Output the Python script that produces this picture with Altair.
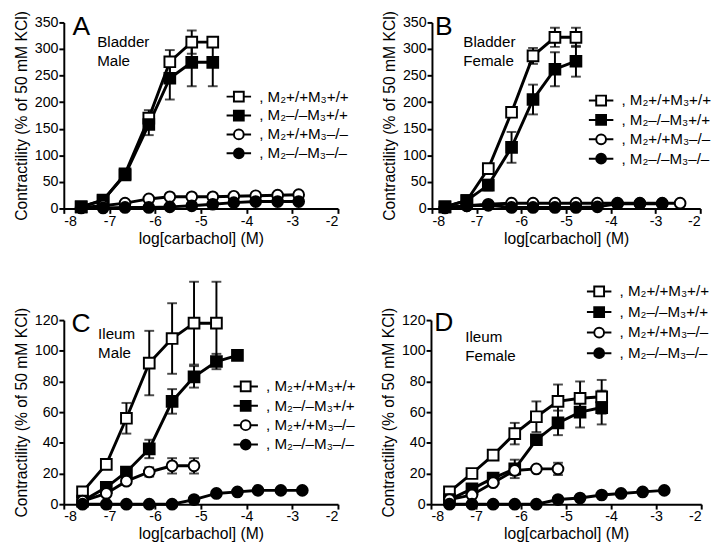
import altair as alt
import pandas as pd

SERIES = [", M₂+/+M₃+/+", ", M₂–/–M₃+/+", ", M₂+/+M₃–/–", ", M₂–/–M₃–/–"]
SHAPES = ["square", "square", "circle", "circle"]
FILLS = ["white", "black", "white", "black"]
STROKES = ["black", "black", "black", "black"]
LEGEND_PATHS = [
    "M-2.5,0H-1M1,0H2.5M-1,-1H1V1H-1Z",
    "M-2.5,0H-1M1,0H2.5M-1,-1H1V1H-1Z",
    "M-2.5,0H-1M1,0H2.5M-1,0A1,1,0,1,1,1,0A1,1,0,1,1,-1,0Z",
    "M-2.5,0H-1M1,0H2.5M-1,0A1,1,0,1,1,1,0A1,1,0,1,1,-1,0Z",
]

X_TICKS = [-8, -7, -6, -5, -4, -3, -2]
Y_TICKS_BLADDER = [0, 50, 100, 150, 200, 250, 300, 350]
Y_TICKS_ILEUM = [0, 20, 40, 60, 80, 100, 120]

# Panel A: bladder, male
A_X = [-7.62, -7.14, -6.66, -6.14, -5.68, -5.20, -4.74, -4.28, -3.80, -3.32, -2.86]
A_WT = [3, 15, 65, 170, 276, 313, 313]
A_WT_ERR = [0, 0, 0, 15, 22, 22, 8]
A_M2 = [3, 16, 63, 158, 245, 275, 275]
A_M2_ERR = [0, 3, 5, 20, 40, 45, 45]
A_M3 = [2, 5, 10, 18, 22, 22, 22, 23, 24, 25, 26]
A_M23 = [1, 1, 2, 2, 3, 5, 8, 11, 13, 13, 13]

# Panel B: bladder, female
B_X = [-7.71, -7.22, -6.74, -6.22, -5.74, -5.25, -4.78, -4.30, -3.85, -3.35, -2.85, -2.45]
B_WT = [3, 15, 75, 181, 287, 322, 322]
B_WT_ERR = [0, 0, 0, 0, 15, 18, 18]
B_M2 = [3, 15, 44, 115, 205, 262, 277]
B_M2_ERR = [0, 0, 10, 29, 28, 32, 29]
B_M3 = [2, 5, 8, 10, 10, 10, 10, 10, 10, 10, 10, 10]
B_M23 = [1, 5, 6, 2, 2, 2, 2, 3, 9, 9, 9]

# Panel C: ileum, male
C_X = [-7.59, -7.07, -6.63, -6.13, -5.63, -5.15, -4.66, -4.20, -3.75, -3.25, -2.78]
C_WT = [8, 26, 56, 92, 108, 118, 118]
C_WT_ERR = [0, 3, 10, 21, 23, 27, 27]
C_M2 = [2, 11, 21, 36, 67, 83, 93, 97]
C_M2_ERR = [0, 2, 3, 6, 8, 7, 5, 0]
C_M3 = [2, 7, 15, 21, 25, 25]
C_M3_ERR = [0, 1, 2, 3, 5, 5]
C_M23 = [0, 0, 0, 0, 0, 3, 7, 8, 9, 9, 9]

# Panel D: ileum, female
D_X = [-7.59, -7.09, -6.62, -6.14, -5.66, -5.18, -4.69, -4.21, -3.78, -3.30, -2.82]
D_WT = [8, 20, 32, 46, 57, 67, 69, 70]
D_WT_ERR = [0, 0, 0, 7, 10, 11, 11, 11]
D_M2 = [3, 10, 17, 23, 42, 53, 60, 63]
D_M2_ERR = [0, 0, 0, 6, 0, 8, 10, 11]
D_M3 = [3, 6, 14, 22, 23, 23]
D_M3_ERR = [0, 0, 2, 3, 0, 4]
D_M23 = [0, 0, 0, 0, 0, 3, 4, 6, 7, 8, 9]

FONT = "Liberation Sans"


def build(xs, groups):
    rows = []
    for si, (vals, errs) in enumerate(groups):
        for i, v in enumerate(vals):
            e = errs[i] if errs else 0
            rows.append(dict(series=SERIES[si], sidx=si, x=xs[i], y=v,
                             lo=v - e, hi=v + e, err=e))
    return pd.DataFrame(rows)


def panel(df, ymax, yticks, width, height, letter, letter_xy, lines, lines_xy, leg_xy, row_pad):
    xs = alt.Scale(domain=[-8, -2], nice=False, zero=False)
    ys = alt.Scale(domain=[0, ymax], nice=False)
    xax = alt.Axis(values=X_TICKS, labelExpr="'' + datum.value",
                   title="log[carbachol] (M)")
    yax = alt.Axis(values=yticks, title="Contractility (% of 50 mM KCl)")
    X = alt.X("x:Q", scale=xs, axis=xax)
    base = alt.Chart(df)

    line = base.mark_line(color="black", strokeWidth=3, clip=False).encode(
        x=X, y=alt.Y("y:Q", scale=ys, axis=yax), detail="series:N")
    errs = base.transform_filter("datum.err > 0")
    rule = errs.mark_rule(color="black", strokeWidth=2).encode(
        x=X, y=alt.Y("lo:Q", scale=ys, axis=yax), y2="hi:Q")
    cap_hi = errs.mark_tick(orient="horizontal", color="black", size=10,
                            thickness=2).encode(
        x=X, y=alt.Y("hi:Q", scale=ys, axis=yax))
    cap_lo = errs.mark_tick(orient="horizontal", color="black", size=10,
                            thickness=2).encode(
        x=X, y=alt.Y("lo:Q", scale=ys, axis=yax))
    pts = base.mark_point(stroke="black", strokeWidth=2, size=120,
                          opacity=1).encode(
        x=X, y=alt.Y("y:Q", scale=ys, axis=yax),
        shape=alt.Shape("series:N", scale=alt.Scale(domain=SERIES, range=SHAPES), legend=None),
        fill=alt.Fill("series:N", scale=alt.Scale(domain=SERIES, range=FILLS), legend=None),
        order=alt.Order("sidx:Q"))

    leg = alt.Legend(orient="none", legendX=leg_xy[0], legendY=leg_xy[1], title=None,
                     labelFont=FONT, labelFontSize=15.5, labelColor="black",
                     symbolSize=100, symbolStrokeWidth=2, symbolStrokeColor="black",
                     symbolOpacity=1, labelOffset=13, rowPadding=row_pad, padding=0,
                     labelLimit=0)
    legdf = pd.DataFrame({"series": SERIES})
    legend_layer = alt.Chart(legdf).mark_point(opacity=0, strokeWidth=2).encode(
        shape=alt.Shape("series:N", scale=alt.Scale(domain=SERIES, range=LEGEND_PATHS), legend=leg),
        fill=alt.Fill("series:N", scale=alt.Scale(domain=SERIES, range=FILLS), legend=leg),
        stroke=alt.Stroke("series:N", scale=alt.Scale(domain=SERIES, range=STROKES), legend=leg))

    let_df = pd.DataFrame({"x": [letter_xy[0]], "y": [letter_xy[1]], "t": [letter]})
    let_layer = alt.Chart(let_df).mark_text(align="left", baseline="alphabetic",
                                             fontSize=27, font=FONT, color="black").encode(
        x=alt.X("x:Q", scale=xs, axis=xax), y=alt.Y("y:Q", scale=ys, axis=yax), text="t:N")
    lab_df = pd.DataFrame({"x": [lines_xy[0]], "y": [lines_xy[1]], "t": [lines]})
    lab_layer = alt.Chart(lab_df).mark_text(align="left", baseline="alphabetic",
                                             fontSize=15.5, font=FONT, color="black",
                                             lineHeight=19.5).encode(
        x=alt.X("x:Q", scale=xs, axis=xax), y=alt.Y("y:Q", scale=ys, axis=yax),
        text="t")

    return alt.layer(line, rule, cap_hi, cap_lo, pts, let_layer, lab_layer, legend_layer).resolve_scale(
        shape="independent", fill="independent", stroke="independent").properties(width=width, height=height)


dfA = build(A_X, [(A_WT, A_WT_ERR), (A_M2, A_M2_ERR), (A_M3, None), (A_M23, None)])
dfB = build(B_X, [(B_WT, B_WT_ERR), (B_M2, B_M2_ERR), (B_M3, None), (B_M23, None)])
dfC = build(C_X, [(C_WT, C_WT_ERR), (C_M2, C_M2_ERR), (C_M3, C_M3_ERR), (C_M23, None)])
dfD = build(D_X, [(D_WT, D_WT_ERR), (D_M2, D_M2_ERR), (D_M3, D_M3_ERR), (D_M23, None)])

pA = panel(dfA, 350, Y_TICKS_BLADDER, 280, 190, "A", (-7.81, 326), ["Bladder", "Male"], (-7.27, 304), (171, 68), 0.3)
pB = panel(dfB, 350, Y_TICKS_BLADDER, 274, 190, "B", (-7.93, 326), ["Bladder", "Female"], (-7.3, 304), (165, 72), 0.8)
pC = panel(dfC, 120, Y_TICKS_ILEUM, 280, 188, "C", (-7.83, 112), ["Ileum", "Male"], (-7.25, 108), (178, 60), 0.8)
pD = panel(dfD, 120, Y_TICKS_ILEUM, 276, 188, "D", (-7.93, 113), ["Ileum", "Female"], (-7.24, 106), (164, -37), 2)

chart = alt.vconcat(
    alt.hconcat(pA, pB, spacing=32),
    alt.hconcat(pC, pD, spacing=24),
    spacing=34,
).properties(
    padding={"left": 5, "top": -4, "right": 0, "bottom": 0}
).configure(font=FONT).configure_view(stroke=None).configure_axis(
    domainColor="black", domainWidth=2, tickColor="black", tickWidth=2, tickSize=5,
    labelColor="black", titleColor="black", labelFontSize=14.5, titleFontSize=16,
    titleFontWeight="normal", grid=False, labelPadding=1, labelFont=FONT, titleFont=FONT,
    titlePadding=5).configure_axisX(titlePadding=3)

chart.save("out.html", embed_options={"renderer": "svg", "actions": False})
